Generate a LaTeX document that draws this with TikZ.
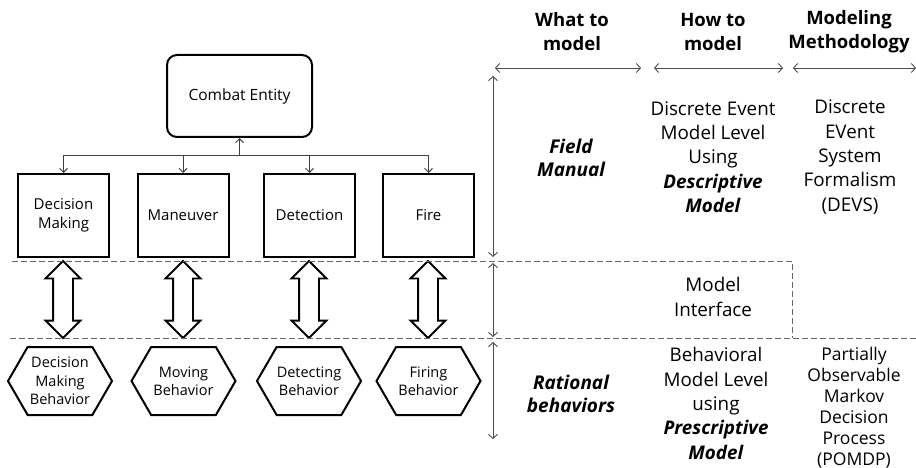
\documentclass[tikz,border=0pt]{standalone}
\usepackage{fontspec}
\setmainfont{Open Sans}
\usepackage{tikz}
\usetikzlibrary{arrows.meta}
\usetikzlibrary{shapes.arrows, shapes.symbols}

\tikzset{
  funcbox/.style={draw=black, rectangle, line width=2pt, minimum width=91, minimum height=83, inner sep=2pt, align=center, font=\fontsize{15}{18.5}\selectfont},
  behavhex/.style={draw=black, signal, signal to=west and east, signal pointer angle=120, line width=2pt, minimum width=104, minimum height=68, inner sep=0pt, align=center, font=\fontsize{14.5}{18.5}\selectfont},
  linkarrow/.style={draw=black, double arrow, line width=1.8pt, minimum height=77, minimum width=33, inner sep=9pt, double arrow head extend=7.5pt, double arrow tip angle=90},
  tree/.style={draw=black!75, line width=0.9pt, -{Straight Barb[length=4pt, width=8pt]}},
  span/.style={draw=black!70, line width=0.9pt, {Straight Barb[length=4pt, width=9pt]}-{Straight Barb[length=4pt, width=9pt]}},
  divider/.style={draw=black!60, line width=1pt, dash pattern=on 6pt off 3pt},
  coltext/.style={align=center, font=\fontsize{18.8}{24.4}\selectfont},
  headtext/.style={align=center, font=\bfseries\fontsize{18.5}{24}\selectfont}
}

\begin{document}
\begin{tikzpicture}[x=1pt, y=-1pt]
\useasboundingbox (0,0) rectangle (916,468);

% what is modeled
\node[draw=black, rounded corners=10pt, line width=2pt, minimum width=145, minimum height=82, font=\fontsize{15.5}{18}\selectfont] (entity) at (239.5,96)
  {Combat Entity};
\node[funcbox] (decide) at (63.5,215.5) {Decision\\Making};
\node[funcbox] (maneuver) at (183,215.5) {Maneuver};
\node[funcbox] (detect) at (309.5,215.5) {Detection};
\node[funcbox] (fire) at (428.5,215.5) {Fire};

\coordinate (bar) at (239.5,155);
\draw[tree] (bar) -- (entity.south);
\foreach \f in {decide, maneuver, detect, fire}
  \draw[tree] (bar) -| (\f.north);

% behaviors
\node[behavhex] (decidebh) at (60,381) {Decision\\Making\\Behavior};
\node[behavhex] (movebh) at (183.5,381) {Moving\\Behavior};
\node[behavhex] (detectbh) at (309,381) {Detecting\\Behavior};
\node[behavhex] (firebh) at (428.5,381) {Firing\\Behavior};

% interface arrows
\node[linkarrow, rotate=90] (link1) at (63,299.5) {};
\node[linkarrow, rotate=90] (link2) at (183,299.5) {};
\node[linkarrow, rotate=90] (link3) at (309,299.5) {};
\node[linkarrow, rotate=90] (link4) at (428,299.5) {};

% layers
\draw[divider] (12,261) -- (792,261) -- (792,338);
\draw[divider] (10,338) -- (916,338);

% column heads
\node[headtext] (what) at (572,32) {What to\\model};
\node[headtext] (how) at (713,32) {How to\\model};
\node[headtext] (method) at (849,32) {Modeling\\Methodology};

\coordinate (w1) at (495,68);
\coordinate (w2) at (641,68);
\coordinate (h1) at (654,68);
\coordinate (h2) at (783,68);
\coordinate (m1) at (793,68);
\coordinate (m2) at (916,68);
\draw[span] (w1) -- (w2);
\draw[span] (h1) -- (h2);
\draw[span] (m1) -- (m2);

\coordinate (v1) at (493,76);
\coordinate (v2) at (493,257);
\coordinate (v3) at (493,263);
\coordinate (v4) at (493,337);
\coordinate (v5) at (493,342);
\coordinate (v6) at (493,439);
\draw[span] (v1) -- (v2);
\draw[span] (v3) -- (v4);
\draw[span] (v5) -- (v6);

% rows
\node[coltext, font=\bfseries\itshape\fontsize{19}{23}\selectfont] (fm) at (571,158) {Field\\Manual};
\node[coltext] (desc) at (713,157) {Discrete Event\\Model Level\\Using\\\textbf{\textit{Descriptive}}\\\textbf{\textit{Model}}};
\node[coltext] (devs) at (850,157) {Discrete\\EVent\\System\\Formalism\\(DEVS)};

\node[coltext] (intf) at (713,297) {Model\\Interface};

\node[coltext, font=\bfseries\itshape\fontsize{19}{23}\selectfont] (rb) at (571,393.5) {Rational\\behaviors};
\node[coltext] (presc) at (716,403.5) {Behavioral\\Model Level\\using\\\textbf{\textit{Prescriptive}}\\\textbf{\textit{Model}}};
\node[coltext, font=\fontsize{17.5}{21}\selectfont] (pomdp) at (854,407.5) {Partially\\Observable\\Markov\\Decision\\Process\\(POMDP)};

\end{tikzpicture}
\end{document}
